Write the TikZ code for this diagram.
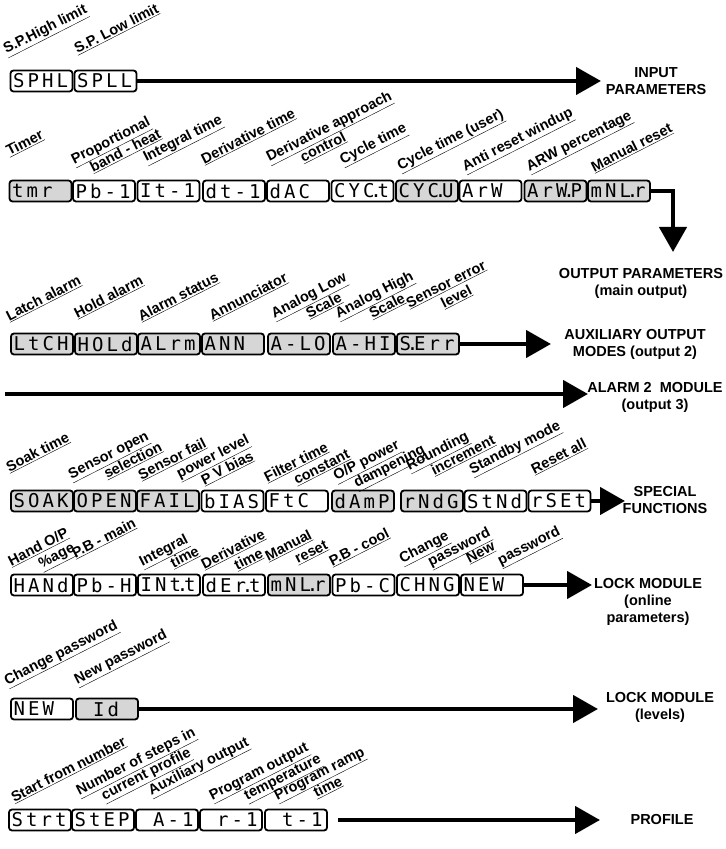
\documentclass[tikz,border=0pt]{standalone}
\usepackage{fontspec}
\setmainfont{Liberation Sans}
\newfontfamily\segfont{DejaVu Sans Mono}
\usetikzlibrary{calc,positioning,arrows.meta}

% read-out text: one cell per character, the decimal point takes no cell
\newcommand\segcell[1]{\makebox[14.5bp][c]{#1}}
\newcommand\segtext[1]{\segloop#1\relax}
\def\segloop#1{\ifx#1\relax\else\ifx#1.\makebox[0pt][c]{.}\else\segcell{#1}\fi\expandafter\segloop\fi}
\newcommand\segsize{\fontsize{19bp}{19bp}\segfont}
\newcommand\lblsize{\fontsize{14.5bp}{16bp}\selectfont\bfseries}
\newcommand\destsize{\fontsize{14.5bp}{17bp}\selectfont\bfseries}

\begin{document}
\begin{tikzpicture}[x=1bp, y=1bp]

          % Setup the styles for the read-outs, labels and arrows
          \tikzset{disp/.style={draw,
                                line width=1.8bp,
                                rounded corners=3bp,
                                fill=white,
                                minimum height=21bp,
                                text width=60bp,
                                inner xsep=1bp,
                                inner ysep=0pt,
                                align=left,
                                font=\segsize},
                   dispon/.style={disp, fill=black!16},
                   lbl/.style={rotate=27, anchor=base west, inner sep=0pt, font=\lblsize},
                   lbltwo/.style={lbl, xshift=#1, yshift=-16bp},
                   flow/.style={line width=4.5bp, -{Triangle[length=25bp, width=27bp]}},
                   dest/.style={align=center, font=\destsize}}
          \useasboundingbox (0,0) rectangle (726,849);

          % Input parameters
          \node[disp] at (41.5,768)  (SPHL) {\segtext{SPHL}};
          \node[disp] at (105.5,768) (SPLL) {\segtext{SPLL}};
          \node[lbl] at ($(SPHL.north west)+(-3.5,15.5)$) (lSPHL) {\underline{S.P.High limit}};
          \node[lbl] at ($(SPLL.north west)+(3.5,15.5)$)  (lSPLL) {\underline{S.P. Low limit}};
          \coordinate (inTip) at (601,768);
          \node[dest] at (656,768) (inp) {INPUT\\PARAMETERS};
          \draw[flow] (SPLL.east) -- (inTip);

          % Output parameters
          \node[dispon] at (40.5,658) (tmr)  {\segtext{tmr}};
          \node[disp]   at (104,658)  (Pb1)  {\segtext{Pb-1}};
          \node[disp]   at (168.5,658) (It1) {\segtext{It-1}};
          \node[disp]   at (234,658)  (dt1)  {\segtext{dt-1}};
          \node[disp]   at (298,658)  (dAC)  {\segtext{dAC}};
          \node[disp]   at (362.5,658) (CYCt) {\segtext{CYC.t}};
          \node[dispon] at (427,658)  (CYCU) {\segtext{CYC.U}};
          \node[disp]   at (490.5,658) (ArW) {\segtext{ArW}};
          \node[dispon] at (555.5,658) (ArWP) {\segtext{ArW.P}};
          \node[dispon] at (619,658)  (mNLr) {\segtext{mNL.r}};
          \node[lbl] at ($(tmr.north west)+(0.5,23.5)$) (ltmr) {\underline{Timer}};
          \node[lbl] at ($(Pb1.north west)+(2,15.5)$)   (lPb1) {\underline{Proportional}};
          \node[lbltwo=13bp] at (lPb1.base west)        (lPb1b) {\underline{band - heat}};
          \node[lbl] at ($(It1.north west)+(9.5,17.5)$) (lIt1) {\underline{Integral time}};
          \node[lbl] at ($(dt1.north west)+(2,15.5)$)   (ldt1) {\underline{Derivative time}};
          \node[lbl] at ($(dAC.north west)+(3,17.5)$)   (ldAC) {\underline{Derivative approach}};
          \node[lbltwo=30bp] at (ldAC.base west)        (ldACb) {\underline{control}};
          \node[lbl] at ($(CYCt.north west)+(12,15.5)$) (lCYCt) {\underline{Cycle time}};
          \node[lbl] at ($(CYCU.north west)+(5,9.5)$)   (lCYCU) {\underline{Cycle time (user)}};
          \node[lbl] at ($(ArW.north west)+(6.5,8.5)$)  (lArW) {\underline{Anti reset windup}};
          \node[lbl] at ($(ArWP.north west)+(5.5,8.5)$) (lArWP) {\underline{ARW percentage}};
          \node[lbl] at ($(mNLr.north west)+(7,7.5)$)   (lmNLr) {\underline{Manual reset}};
          \coordinate (outTip) at (673,597);
          \node[dest] at (641,566) (outp) {OUTPUT PARAMETERS\\(main output)};
          \draw[flow] (mNLr.east) -| (outTip);

          % Auxiliary output modes
          \node[dispon] at (42,505)  (LtCH) {\segtext{LtCH}};
          \node[dispon] at (106,505) (HOLd) {\segtext{HOLd}};
          \node[dispon] at (169,505) (ALrm) {\segtext{ALrm}};
          \node[dispon] at (233,505) (ANN)  {\segtext{ANN}};
          \node[dispon] at (299,505) (ALO)  {\segtext{A-LO}};
          \node[dispon] at (364,505) (AHI)  {\segtext{A-HI}};
          \node[dispon] at (428,505) (SErr) {\segtext{S.Err}};
          \node[lbl] at ($(LtCH.north west)+(-1,11.5)$) (lLtCH) {\underline{Latch alarm}};
          \node[lbl] at ($(HOLd.north west)+(3,14.5)$)  (lHOLd) {\underline{Hold alarm}};
          \node[lbl] at ($(ALrm.north west)+(4,11.5)$)  (lALrm) {\underline{Alarm status}};
          \node[lbl] at ($(ANN.north west)+(11,12.5)$)  (lANN) {\underline{Annunciator}};
          \node[lbl] at ($(ALO.north west)+(7,14.5)$)   (lALO) {\underline{Analog Low}};
          \node[lbltwo=31bp] at (lALO.base west)        (lALOb) {\underline{Scale}};
          \node[lbl] at ($(AHI.north west)+(6,14.5)$)   (lAHI) {\underline{Analog High}};
          \node[lbltwo=30bp] at (lAHI.base west)        (lAHIb) {\underline{Scale}};
          \node[lbl] at ($(SErr.north west)+(13,24.5)$) (lSErr) {\underline{Sensor error}};
          \node[lbltwo=31bp] at (lSErr.base west)       (lSErrb) {\underline{level}};
          \coordinate (auxTip) at (551,505);
          \node[dest] at (635,505) (aux) {AUXILIARY OUTPUT\\MODES (output 2)};
          \draw[flow] (SErr.east) -- (auxTip);

          % Alarm 2 module
          \coordinate (alStart) at (5,455);
          \coordinate (alTip) at (588,455);
          \node[dest] at (655,452) (alarm) {ALARM 2~ MODULE\\(output 3)};
          \draw[flow] (alStart) -- (alTip);

          % Special functions
          \node[dispon] at (42,348)    (SOAK) {\segtext{SOAK}};
          \node[dispon] at (105,348)   (OPEN) {\segtext{OPEN}};
          \node[dispon] at (168,348)   (FAIL) {\segtext{FAIL}};
          \node[disp]   at (232.5,348) (bIAS) {\segtext{bIAS}};
          \node[disp]   at (297,348)   (FtC)  {\segtext{FtC}};
          \node[dispon] at (363,348)   (dAmP) {\segtext{dAmP}};
          \node[dispon] at (432,348)   (rNdG) {\segtext{rNdG}};
          \node[disp]   at (495.5,348) (StNd) {\segtext{StNd}};
          \node[disp]   at (559.5,348) (rSEt) {\segtext{rSEt}};
          \node[lbl] at ($(SOAK.north west)+(-1,17.5)$) (lSOAK) {\underline{Soak time}};
          \node[lbl] at ($(OPEN.north west)+(-2,10.5)$) (lOPEN) {\underline{Sensor open}};
          \node[lbltwo=32bp] at (lOPEN.base west)       (lOPENb) {\underline{selection}};
          \node[lbl] at ($(FAIL.north west)+(5,9.5)$)   (lFAIL) {\underline{Sensor fail}};
          \node[lbltwo=35bp] at (lFAIL.base west)       (lFAILb) {\underline{power level}};
          \node[lbl] at ($(bIAS.north west)+(3.5,4.5)$) (lbIAS) {\underline{P V bias}};
          \node[lbl] at ($(FtC.north west)+(2,7.5)$)    (lFtC) {\underline{Filter time}};
          \node[lbltwo=25bp] at (lFtC.base west)        (lFtCb) {\underline{constant}};
          \node[lbl] at ($(dAmP.north west)+(5,9)$)     (ldAmP) {\underline{O/P power}};
          \node[lbltwo=15bp] at (ldAmP.base west)       (ldAmPb) {\underline{dampening}};
          \node[lbl] at ($(rNdG.north west)+(9,19.5)$)  (lrNdG) {\underline{Rounding}};
          \node[lbltwo=20bp] at (lrNdG.base west)       (lrNdGb) {\underline{increment}};
          \node[lbl] at ($(StNd.north west)+(8.5,15.5)$) (lStNd) {\underline{Standby mode}};
          \node[lbl] at ($(rSEt.north west)+(6.5,15.5)$) (lrSEt) {\underline{Reset all}};
          \coordinate (spTip) at (625,348);
          \node[dest] at (665,349) (spec) {SPECIAL\\FUNCTIONS};
          \draw[flow] (rSEt.east) -- (spTip);

          % Lock module, online parameters
          \node[disp]   at (42,264)    (HANd)  {\segtext{HANd}};
          \node[disp]   at (105,264)   (PbH)   {\segtext{Pb-H}};
          \node[disp]   at (169,264)   (INtt)  {\segtext{INt.t}};
          \node[disp]   at (234,264)   (dErt)  {\segtext{dEr.t}};
          \node[dispon] at (299,264)   (mNLrb) {\segtext{mNL.r}};
          \node[disp]   at (363.5,264) (PbC)   {\segtext{Pb-C}};
          \node[disp]   at (428,264)   (CHNG)  {\segtext{CHNG}};
          \node[disp]   at (492,264)   (NEW)   {\segtext{NEW}};
          \node[lbl] at ($(HANd.north west)+(1,7.5)$)   (lHANd) {\underline{Hand O/P}};
          \node[lbltwo=26bp] at (lHANd.base west)       (lHANdb) {\underline{\%age}};
          \node[lbl] at ($(PbH.north west)+(2,15.5)$)   (lPbH) {\underline{P.B - main}};
          \node[lbl] at ($(INtt.north west)+(5,7.5)$)   (lINtt) {\underline{Integral}};
          \node[lbltwo=27bp] at (lINtt.base west)       (lINttb) {\underline{time}};
          \node[lbl] at ($(dErt.north west)+(2,4.5)$)   (ldErt) {\underline{Derivative}};
          \node[lbltwo=29bp] at (ldErt.base west)       (ldErtb) {\underline{time}};
          \node[lbl] at ($(mNLrb.north west)+(1,12.5)$) (lmNLrb) {\underline{Manual}};
          \node[lbltwo=25bp] at (lmNLrb.base west)      (lmNLrbb) {\underline{reset}};
          \node[lbl] at ($(PbC.north west)+(0.5,7.5)$)  (lPbC) {\underline{P.B - cool}};
          \node[lbl] at ($(CHNG.north west)+(6,10.5)$)  (lCHNG) {\underline{Change}};
          \node[lbltwo=24bp] at (lCHNG.base west)       (lCHNGb) {\underline{password}};
          \node[lbl] at ($(NEW.north west)+(9,10.5)$)   (lNEW) {\underline{New}};
          \node[lbltwo=27bp] at (lNEW.base west)        (lNEWb) {\underline{password}};
          \coordinate (lkTip) at (592,264);
          \node[dest] at (648,247) (lock) {LOCK MODULE\\(online\\parameters)};
          \draw[flow] (NEW.east) -- (lkTip);

          % Lock module, levels
          \node[disp]   at (42,140)  (NEWb) {\segtext{NEW}};
          \node[dispon] at (107,140) (Id)   {\segtext{~Id}};
          \node[lbl] at ($(NEWb.north west)+(-3,12.5)$) (lNEWb) {\underline{Change password}};
          \node[lbl] at ($(Id.north west)+(2,13.5)$)    (lId) {\underline{New password}};
          \coordinate (lvTip) at (598,140);
          \node[dest] at (660,142) (levels) {LOCK MODULE\\(levels)};
          \draw[flow] (Id.east) -- (lvTip);

          % Profile
          \node[disp] at (40,29)  (Strt) {\segtext{Strt}};
          \node[disp] at (103,29) (StEP) {\segtext{StEP}};
          \node[disp] at (167,29) (A1)   {\segtext{~A-1}};
          \node[disp] at (231,29) (r1)   {\segtext{~r-1}};
          \node[disp] at (296,29) (t1)   {\segtext{~t-1}};
          \node[lbl] at ($(Strt.north west)+(6,6)$)     (lStrt) {\underline{Start from number}};
          \node[lbl] at ($(StEP.north west)+(8,13.5)$)  (lStEP) {\underline{Number of steps in}};
          \node[lbltwo=20bp] at (lStEP.base west)       (lStEPb) {\underline{current profile}};
          \node[lbl] at ($(A1.north west)+(16,13.5)$)   (lA1) {\underline{Auxiliary output}};
          \node[lbl] at ($(r1.north west)+(13,8.5)$)    (lr1) {\underline{Program output}};
          \node[lbltwo=31bp] at (lr1.base west)         (lr1b) {\underline{temperature}};
          \node[lbl] at ($(t1.north west)+(13,8.5)$)    (lt1) {\underline{Program ramp}};
          \node[lbltwo=36bp] at (lt1.base west)         (lt1b) {\underline{time}};
          \coordinate (prTip) at (600,29);
          \node[dest] at (662,29) (prof) {PROFILE};
          \draw[flow, shorten <=10bp] (t1.east) -- (prTip);
      \end{tikzpicture}
\end{document}
